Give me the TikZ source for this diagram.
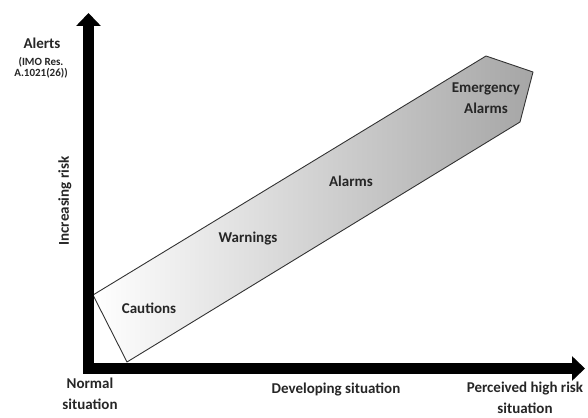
\documentclass[tikz,border=0pt]{standalone}
\usepackage{fontspec}
\setmainfont{Carlito}
\usetikzlibrary{arrows.meta,positioning}
\tikzstyle{every node}=[font=\bfseries\fontsize{15}{21}\selectfont,
                        text=black!85,
                        inner sep=0pt,
                        align=center]
\tikzstyle{axis}=[line width=11pt,
                  line cap=rect,
                  -{Triangle[length=13pt,width=24pt]}]
\tikzstyle{band}=[draw=black!80,
                  line width=0.9pt,
                  line join=round,
                  left color=white,
                  right color=black!35]
\tikzstyle{small}=[font=\bfseries\fontsize{11}{9.5}\selectfont]

\begin{document}
\begin{tikzpicture}[x=1pt,y=-1pt]
\useasboundingbox (0,0) rectangle (588,417);
% axes
\coordinate (corner) at (88.5,368.5);
\coordinate (ytip)   at (88.5,13);
\coordinate (xtip)   at (585,368.5);
% the alert band
\coordinate (b1) at (93,295);
\coordinate (b2) at (127,362);
\coordinate (b3) at (520,122);
\coordinate (b4) at (533,72);
\coordinate (b5) at (486,56);
\draw[band] (b1) -- (b2) -- (b3) -- (b4) -- (b5) -- cycle;
\draw[axis] (corner) -- (ytip);
\draw[axis] (corner) -- (xtip);
% labels
\node (alerts)   at (42,43)  {Alerts};
\node (imo)      [small] at (41,67.5) {(IMO Res.\\A.1021(26))};
\node (risk)     [rotate=90] at (65,201) {Increasing risk};
\node (cautions) at (149,308) {Cautions};
\node (warnings) at (248,239) {Warnings};
\node (alarms)   at (351,181) {Alarms};
\node (emerg)    at (486,98)  {Emergency\\Alarms};
\node (normal)   at (90,394)  {Normal\\situation};
\node (develop)  at (336,389) {Developing situation};
\node (high)     at (525,397.5) {Perceived high risk\\situation};
\end{tikzpicture}
\end{document}
